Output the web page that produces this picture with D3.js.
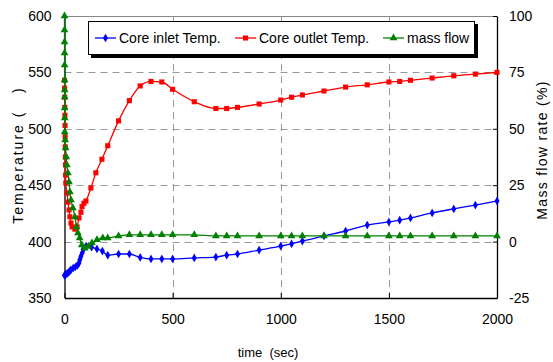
<!DOCTYPE html>
<html>
<head>
<meta charset="utf-8">
<script src="https://cdn.jsdelivr.net/npm/d3@7"></script>
<style>
  body { margin: 0; background: #fff; }
  svg { display: block; font-family: "Liberation Sans", Arial, sans-serif; }
  text { white-space: pre; }
</style>
</head>
<body>
<div id="chart"></div>
<script>
// core inlet temperature (left axis, deg)
const inletTime = [0, 3, 6, 10, 15, 20, 25, 30, 40, 50, 60, 67, 71, 76, 82, 86, 90, 100, 125, 150, 175, 200, 250, 300, 350, 400, 450, 500, 600, 700, 750, 800, 900, 1000, 1050, 1100, 1200, 1300, 1400, 1500, 1550, 1600, 1700, 1800, 1900, 2000];
const inletTemp = [370, 370.5, 371, 371.5, 372, 373, 374, 375, 376.5, 377.5, 379, 381, 384, 387, 390, 393, 394, 396, 395, 393.5, 391.6, 388, 389, 389, 386, 384.6, 384.6, 384.6, 385.5, 386.3, 388, 389, 392.5, 396, 398, 400.5, 405, 409.4, 414.7, 417.4, 419, 421, 425.4, 429, 432.4, 436];

// core outlet temperature (left axis)
const outletTime = [0, 0.5, 1, 1.5, 2, 2.5, 3, 3.5, 4, 4.5, 5, 6, 12, 16, 21, 25, 30, 35, 48, 58, 67, 76, 81, 90, 99, 122, 145, 173, 200, 250, 300, 350, 400, 450, 500, 600, 700, 750, 800, 900, 1000, 1050, 1100, 1200, 1300, 1400, 1500, 1550, 1600, 1700, 1800, 1900, 2000];
const outletTemp = [543, 536, 528, 519, 512, 503, 493, 484, 475, 468, 459, 452, 443, 435, 428, 422, 416.5, 413, 411, 413, 421, 426, 431, 434, 436, 447.5, 461, 473, 485, 507, 525, 538, 542, 541.5, 535, 524, 518, 518, 519, 522, 525.5, 528, 530, 533.5, 537, 539, 541.5, 542, 543, 545, 547, 548.5, 550];

// mass flow rate (right axis, %)
const flowTime = [0, 0.1, 0.2, 0.3, 0.4, 0.5, 0.6, 0.7, 0.8, 0.9, 1, 3, 5, 8, 11, 16, 21, 25, 30, 39, 48, 55, 62, 70, 80, 94, 110, 127, 150, 177, 200, 250, 300, 350, 400, 450, 500, 600, 700, 750, 800, 900, 1000, 1050, 1100, 1200, 1300, 1400, 1500, 1550, 1600, 1700, 1800, 1900, 2000];
const flowRate = [100, 93.8, 88.5, 83.6, 78.3, 71.6, 67.2, 64.1, 59.2, 54.8, 48.6, 45, 41.5, 37.5, 34, 30.4, 26.4, 22, 18.4, 14.9, 10.9, 6.5, 3.8, 1.6, -1.5, -3, -2.2, -0.6, 0.8, 1.6, 1.6, 2.5, 3, 3, 3, 3, 3, 3, 2.5, 2.5, 2.5, 2.5, 2.5, 2.5, 2.5, 2.5, 2.5, 2.5, 2.5, 2.5, 2.5, 2.5, 2.5, 2.5, 2.5];

const xTicks = [0, 500, 1000, 1500, 2000];
const leftTicks = [350, 400, 450, 500, 550, 600];
const rightTicks = [-25, 0, 25, 50, 75, 100];
const seriesNames = ["Core inlet Temp.", "Core outlet Temp.", "mass flow"];

const W = 553, H = 362;
const margin = { top: 16, right: 56, bottom: 64, left: 64.5 };

const svg = d3.select('#chart').append('svg')
  .attr('width', W)
  .attr('height', H);

const x = d3.scaleLinear().domain([0, 2000]).range([margin.left, W - margin.right]);
const yL = d3.scaleLinear().domain([350, 600]).range([H - margin.bottom, margin.top]);
const yR = d3.scaleLinear().domain([-25, 100]).range([H - margin.bottom, margin.top]);

const x0 = x.range()[0], x1 = x.range()[1];
const yTop = margin.top, yBot = H - margin.bottom;
const fmt = d => String(d);

// grid
const grid = svg.append('g').attr('stroke', '#999').attr('stroke-width', 1).attr('stroke-dasharray', '7,5');
grid.selectAll('.hg')
  .data(leftTicks.filter(d => d > 350 && d < 600))
  .enter().append('line')
  .attr('x1', x0).attr('x2', x1)
  .attr('y1', d => Math.round(yL(d)) + 0.5).attr('y2', d => Math.round(yL(d)) + 0.5);
grid.selectAll('.vg')
  .data(xTicks.filter(d => d > 0 && d < 2000))
  .enter().append('line')
  .attr('x1', d => Math.round(x(d)) + 0.5).attr('x2', d => Math.round(x(d)) + 0.5)
  .attr('y1', yTop).attr('y2', yBot);

// top border
svg.append('line')
  .attr('x1', x0).attr('x2', x1).attr('y1', yTop + 0.5).attr('y2', yTop + 0.5)
  .attr('stroke', '#888');

// axes
const axisStyle = (g) => {
  g.select('.domain').attr('stroke', '#000').attr('stroke-width', 1.3);
  g.selectAll('.tick line').attr('stroke', '#000');
  g.selectAll('.tick text').attr('font-size', 14).attr('fill', '#000')
    .attr('font-family', '"Liberation Sans", Arial, sans-serif');
};

svg.append('g')
  .attr('transform', `translate(0, ${yBot})`)
  .call(d3.axisBottom(x).tickValues(xTicks).tickFormat(fmt).tickSize(-5).tickSizeOuter(0).tickPadding(16))
  .call(axisStyle);

svg.append('g')
  .attr('transform', `translate(${x0}, 0)`)
  .call(d3.axisLeft(yL).tickValues(leftTicks).tickFormat(fmt).tickSize(0).tickSizeOuter(0).tickPadding(13))
  .call(axisStyle);

svg.append('g')
  .attr('transform', `translate(${x1}, 0)`)
  .call(d3.axisRight(yR).tickValues(rightTicks).tickFormat(fmt).tickSize(-4).tickSizeOuter(0).tickPadding(12))
  .call(axisStyle);

// axis titles
svg.append('text')
  .attr('transform', `translate(23, 155) rotate(-90)`)
  .attr('text-anchor', 'middle')
  .attr('font-size', 14)
  .attr('letter-spacing', 2)
  .text('Temperature (   )');

svg.append('text')
  .attr('transform', `translate(547, 150) rotate(-90)`)
  .attr('text-anchor', 'middle')
  .attr('font-size', 14)
  .attr('letter-spacing', 1.3)
  .text('Mass flow rate (%)');

svg.append('text')
  .attr('x', 268).attr('y', 357)
  .attr('text-anchor', 'middle')
  .attr('font-size', 13)
  .text('time  (sec)');

// series
const series = [
  { name: seriesNames[0], t: inletTime, v: inletTemp, y: yL, color: '#0000ff', sym: d3.symbolDiamond, size: 22 },
  { name: seriesNames[1], t: outletTime, v: outletTemp, y: yL, color: '#ff0000', sym: d3.symbolSquare, size: 26 },
  { name: seriesNames[2], t: flowTime, v: flowRate, y: yR, color: '#008000', sym: d3.symbolTriangle, size: 26 }
];

series.forEach(s => {
  const pts = s.t.map((t, i) => [t, s.v[i]]);
  const line = d3.line()
    .x(d => x(d[0]))
    .y(d => s.y(d[1]))
    .curve(d3.curveMonotoneX);

  svg.append('path')
    .datum(pts)
    .attr('fill', 'none')
    .attr('stroke', s.color)
    .attr('stroke-width', 1.3)
    .attr('d', line);

  svg.selectAll(null)
    .data(pts)
    .enter()
    .append('path')
    .attr('d', d3.symbol().type(s.sym).size(s.size))
    .attr('transform', d => `translate(${x(d[0])}, ${s.y(d[1])})`)
    .attr('fill', s.color);
});

// legend
const lg = svg.append('g');
lg.append('rect')
  .attr('x', 91).attr('y', 24).attr('width', 387).attr('height', 34)
  .attr('fill', '#000');
lg.append('rect')
  .attr('x', 88.5).attr('y', 21.5).attr('width', 386).attr('height', 33)
  .attr('fill', '#fff').attr('stroke', '#000').attr('stroke-width', 1);

const legendX = [95, 235, 383];
series.forEach((s, i) => {
  const g = lg.append('g').attr('transform', `translate(${legendX[i]}, 38)`);
  g.append('line').attr('x1', 0).attr('x2', 21).attr('stroke', s.color).attr('stroke-width', 1.3);
  g.append('path')
    .attr('d', d3.symbol().type(s.sym).size(s.size))
    .attr('transform', 'translate(10.5, 0)')
    .attr('fill', s.color);
  g.append('text')
    .attr('x', 24).attr('y', 5)
    .attr('font-size', 14)
    .text(s.name);
});
</script>
</body>
</html>
